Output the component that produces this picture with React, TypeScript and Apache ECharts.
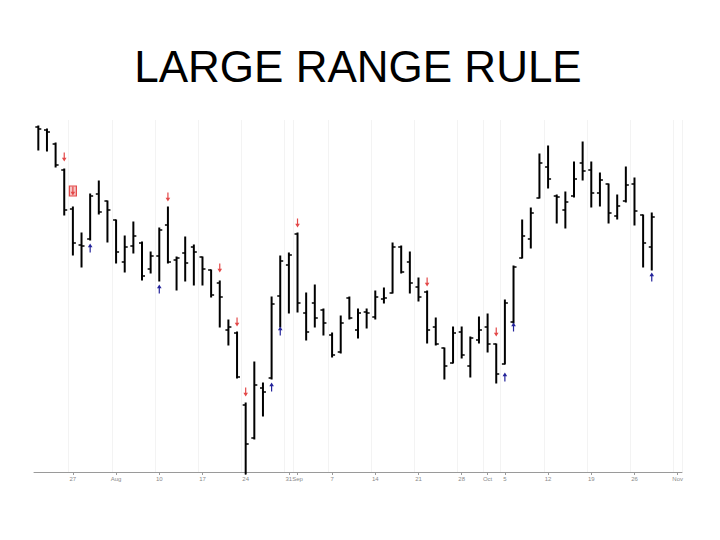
import React, { useEffect, useRef } from "react";
import * as echarts from "echarts";

// Trading days (2009), one category per bar plus a few empty days at the end
const categories = [
  "07-21", "07-22", "07-23", "07-24",
  "07-27", "07-28", "07-29", "07-30", "07-31",
  "08-03", "08-04", "08-05", "08-06", "08-07",
  "08-10", "08-11", "08-12", "08-13", "08-14",
  "08-17", "08-18", "08-19", "08-20", "08-21",
  "08-24", "08-25", "08-26", "08-27", "08-28",
  "08-31", "09-01", "09-02", "09-03", "09-04",
  "09-07", "09-08", "09-09", "09-10", "09-11",
  "09-14", "09-15", "09-16", "09-17", "09-18",
  "09-21", "09-22", "09-23", "09-24", "09-25",
  "09-28", "09-29", "09-30", "10-01", "10-02",
  "10-05", "10-06", "10-07", "10-08", "10-09",
  "10-12", "10-13", "10-14", "10-15", "10-16",
  "10-19", "10-20", "10-21", "10-22", "10-23",
  "10-26", "10-27", "10-28", "10-29", "10-30",
  "11-02",
];

// Tick labels on the date axis (category index -> text)
const tickIndex = [4, 9, 14, 19, 24, 29, 30, 34, 39, 44, 49, 52, 54, 59, 64, 69, 74];
const tickText = ["27", "Aug", "10", "17", "24", "31", "Sep", "7", "14", "21", "28", "Oct", "5", "12", "19", "26", "Nov"];

// OHLC values
const highs = [
  374, 371, 357, 331, 293, 267, 306, 319, 299, 280,
  264, 278, 258, 248, 272, 293, 243, 263, 255, 243,
  230, 219, 180, 168, 97, 138, 117, 203, 244, 247,
  267, 207, 215, 191, 167, 184, 203, 191, 191, 209,
  212, 257, 254, 248, 222, 209, 182, 152, 173, 173,
  163, 183, 186, 156, 200, 234, 280, 292, 346, 354,
  305, 308, 338, 358, 338, 327, 316, 305, 333, 322,
  285, 287,
];
const lows = [
  350, 349, 333, 285, 245, 233, 260, 286, 258, 237,
  228, 247, 220, 227, 219, 237, 210, 219, 215, 215,
  203, 173, 155, 122, 26, 61, 84, 121, 173, 187,
  188, 160, 173, 165, 143, 147, 181, 162, 172, 181,
  197, 207, 227, 207, 199, 157, 155, 121, 137, 142,
  123, 157, 148, 117, 136, 177, 242, 252, 302, 312,
  277, 272, 303, 320, 293, 294, 277, 281, 298, 275,
  233, 230,
];
const opens = [
  373, 370, 356, 330, 291, 255, 261, 306, 299, 280,
  238, 254, 257, 231, 244, 275, 240, 247, 253, 243,
  230, 217, 170, 167, 95, 62, 112, 122, 204, 235,
  266, 187, 197, 190, 165, 148, 202, 170, 188, 183,
  201, 207, 253, 238, 213, 208, 173, 152, 137, 168,
  134, 160, 173, 156, 136, 178, 242, 261, 302, 333,
  304, 290, 304, 337, 330, 307, 316, 284, 299, 316,
  285, 253,
];
const closes = [
  371, 368, 335, 290, 257, 254, 304, 288, 290, 248,
  253, 264, 224, 244, 270, 238, 242, 237, 248, 231,
  205, 203, 173, 123, 56, 115, 108, 196, 239, 245,
  197, 168, 182, 177, 145, 177, 182, 187, 187, 203,
  202, 253, 228, 217, 203, 170, 156, 134, 167, 145,
  162, 170, 156, 126, 197, 233, 264, 287, 337, 321,
  303, 298, 321, 329, 307, 320, 287, 294, 315, 289,
  257, 283,
];

// Signal arrows: bar index and level
const sellIndex = [3, 15, 21, 23, 24, 30, 45, 53];
const sellLevel = [343, 303, 232, 178, 108, 277, 218, 168];
const boxIndex = [4];
const boxLevel = [309];
const buyIndex = [6, 14, 27, 28, 54, 55, 71];
const buyLevel = [252, 211, 113, 169, 123, 173, 223];

const RED = "#e34848";
const BLUE = "#23239a";

export default function App() {
  const ref = useRef<HTMLDivElement>(null);

  useEffect(() => {
    document.body.style.margin = "0";
    const chart = echarts.init(ref.current!, null, { renderer: "svg" });

    const labelMap: Record<number, string> = {};
    tickIndex.forEach((ix, k) => (labelMap[ix] = tickText[k]));
    const showTick = (idx: number) => labelMap[idx] !== undefined;

    const ohlcData = highs.map((h, i) => [i, opens[i], closes[i], lows[i], h]);

    const renderOHLC = (params: any, api: any) => {
      const i = api.value(0);
      const o = api.coord([i, api.value(1)]);
      const c = api.coord([i, api.value(2)]);
      const l = api.coord([i, api.value(3)]);
      const h = api.coord([i, api.value(4)]);
      const x = h[0];
      const t = 3;
      return {
        type: "group",
        children: [
          { type: "line", shape: { x1: x, y1: h[1] - 0.5, x2: x, y2: l[1] + 0.5 }, style: { stroke: "#000", lineWidth: 2 } },
          { type: "line", shape: { x1: x - t, y1: o[1], x2: x, y2: o[1] }, style: { stroke: "#000", lineWidth: 1.5 } },
          { type: "line", shape: { x1: x, y1: c[1], x2: x + t, y2: c[1] }, style: { stroke: "#000", lineWidth: 1.5 } },
        ],
      };
    };

    const arrowRenderer = (dir: "up" | "down", color: string, boxed: boolean) => (params: any, api: any) => {
      const p = api.coord([api.value(0), api.value(1)]);
      const x = p[0];
      const y = p[1];
      const children: any[] = [];
      if (boxed) {
        children.push({
          type: "rect",
          shape: { x: x - 3.5, y: y - 5, width: 7, height: 10 },
          style: { fill: "#f6c4c4", stroke: color, lineWidth: 1.2 },
        });
      }
      if (dir === "down") {
        children.push({ type: "line", shape: { x1: x, y1: y - 4.5, x2: x, y2: y + 2 }, style: { stroke: color, lineWidth: 1.2 } });
        children.push({ type: "polygon", shape: { points: [[x - 2.3, y + 0.8], [x + 2.3, y + 0.8], [x, y + 4.5]] }, style: { fill: color } });
      } else {
        children.push({ type: "line", shape: { x1: x, y1: y + 4.5, x2: x, y2: y - 2 }, style: { stroke: color, lineWidth: 1.2 } });
        children.push({ type: "polygon", shape: { points: [[x - 2.3, y - 0.8], [x + 2.3, y - 0.8], [x, y - 4.5]] }, style: { fill: color } });
      }
      return { type: "group", children };
    };

    chart.setOption({
      animation: false,
      backgroundColor: "#ffffff",
      graphic: [
        {
          type: "text",
          x: 358,
          y: 66,
          style: {
            text: "LARGE RANGE RULE",
            fontFamily: "'Liberation Sans', Arial, sans-serif",
            fontSize: 44,
            fill: "#000",
            textAlign: "center",
            textVerticalAlign: "middle",
          },
        },
      ],
      grid: { left: 34, right: 38, top: 120, bottom: 68 },
      xAxis: {
        type: "category",
        data: categories,
        boundaryGap: true,
        axisLine: { lineStyle: { color: "#9a9a9a", width: 1 } },
        axisTick: { show: true, alignWithLabel: true, interval: (idx: number) => showTick(idx), length: 3, lineStyle: { color: "#9a9a9a" } },
        axisLabel: {
          interval: (idx: number) => showTick(idx),
          formatter: (v: string, idx: number) => labelMap[idx] ?? "",
          fontSize: 6,
          color: "#8a8a8a",
          margin: 4,
          fontFamily: "'Liberation Sans', Arial, sans-serif",
        },
        splitLine: { show: true, interval: (idx: number) => showTick(idx), lineStyle: { color: "#f3f3f3" } },
      },
      yAxis: {
        type: "value",
        min: 28,
        max: 380,
        show: false,
        splitLine: { show: false },
      },
      series: [
        {
          type: "custom",
          name: "OHLC",
          renderItem: renderOHLC,
          data: ohlcData,
          encode: { x: 0, y: [1, 2, 3, 4] },
          clip: false,
        },
        {
          type: "custom",
          name: "sell",
          renderItem: arrowRenderer("down", RED, false),
          data: sellIndex.map((ix, k) => [ix, sellLevel[k]]),
          encode: { x: 0, y: 1 },
        },
        {
          type: "custom",
          name: "sellBox",
          renderItem: arrowRenderer("down", RED, true),
          data: boxIndex.map((ix, k) => [ix, boxLevel[k]]),
          encode: { x: 0, y: 1 },
        },
        {
          type: "custom",
          name: "buy",
          renderItem: arrowRenderer("up", BLUE, false),
          data: buyIndex.map((ix, k) => [ix, buyLevel[k]]),
          encode: { x: 0, y: 1 },
        },
      ],
    });

    return () => chart.dispose();
  }, []);

  return <div ref={ref} style={{ width: 720, height: 540 }} />;
}
